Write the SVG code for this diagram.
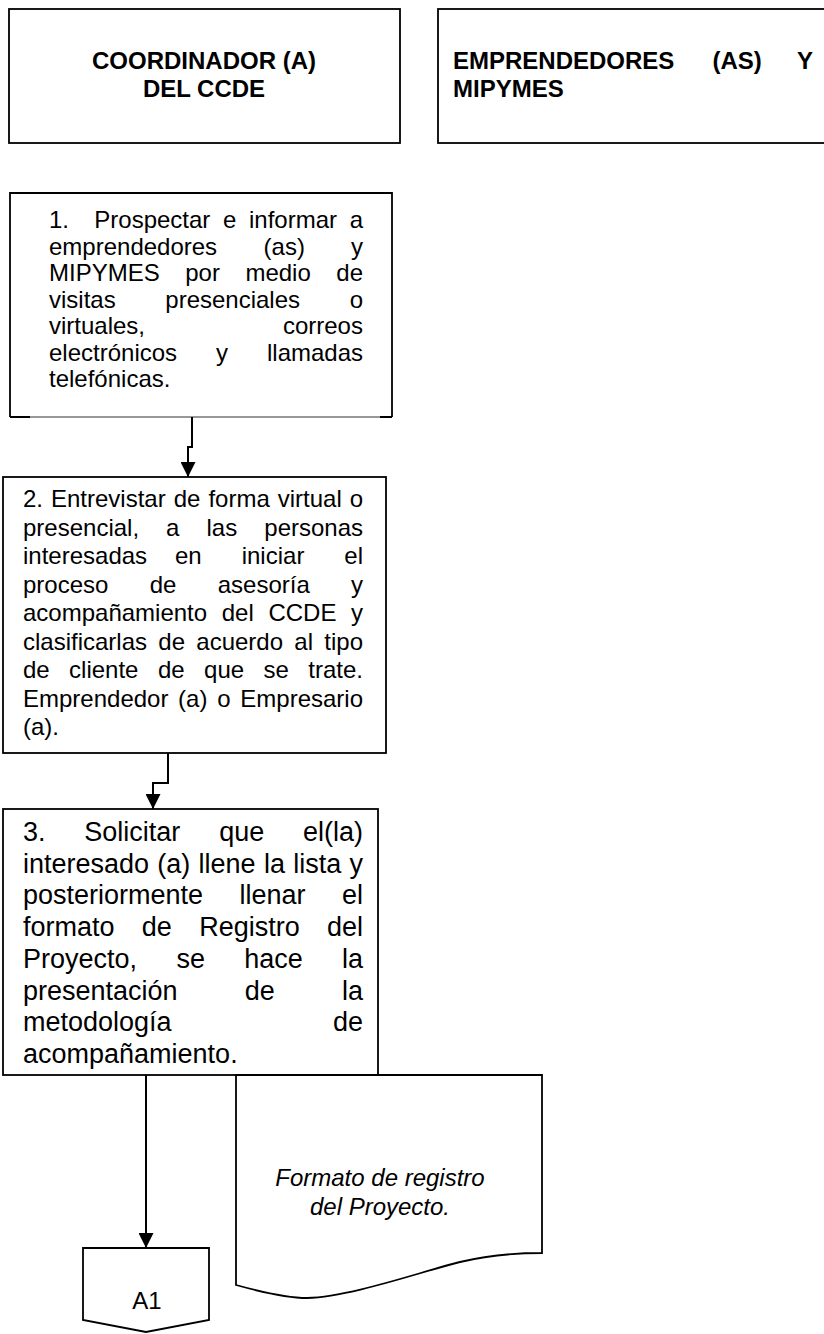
<svg xmlns="http://www.w3.org/2000/svg" width="824" height="1334" viewBox="0 0 824 1334">
<style>
.box{fill:#fff;stroke:#000;stroke-width:1.8}
.hd{font-family:"Liberation Sans",Arial,sans-serif;font-weight:bold;font-size:24px;fill:#000}
.tx{font-family:"Liberation Sans",Arial,sans-serif;font-size:24px;fill:#000}
.t3{font-family:"Liberation Sans",Arial,sans-serif;font-size:27px;fill:#000}
.it{font-family:"Liberation Sans",Arial,sans-serif;font-size:24px;font-style:italic;fill:#000}
.con{fill:none;stroke:#000;stroke-width:2}
</style>
<defs>
<marker id="ah" markerUnits="userSpaceOnUse" viewBox="0 0 15 15" refX="15" refY="7.5" markerWidth="15" markerHeight="15" orient="auto">
<path d="M0,0 L15,7.5 L0,15 Z" fill="#000"/>
</marker>
</defs>
<rect width="824" height="1334" fill="#fff"/>

<g id="header-coordinador">
<rect class="box" x="9" y="9" width="391" height="134" stroke-width="2.2"/>
<text class="hd" x="204" y="69" text-anchor="middle">COORDINADOR (A)</text>
<text class="hd" x="204" y="97" text-anchor="middle">DEL CCDE</text>
</g>

<g id="header-emprendedores">
<rect class="box" x="438" y="9" width="400" height="134" stroke-width="2.2"/>
<text class="hd" y="69"><tspan x="453">EMPRENDEDORES</tspan><tspan x="712.5">(AS)</tspan><tspan x="797">Y</tspan></text>
<text class="hd" x="453" y="97">MIPYMES</text>
</g>

<g id="step1">
<rect x="10" y="193" width="382" height="224" fill="#fff"/>
<path d="M10,417 V193 H392 V417" fill="none" stroke="#000" stroke-width="1.8"/>
<path d="M10,417 H392" fill="none" stroke="#333" stroke-width="1.2"/>
<path d="M10,417 H30 M380,417 H392" fill="none" stroke="#000" stroke-width="2"/>
<text class="tx" y="228"><tspan x="49">1.</tspan><tspan x="94.3">Prospectar</tspan><tspan x="223">e</tspan><tspan x="249">informar</tspan><tspan x="349.7">a</tspan></text>
<text class="tx" y="254.5"><tspan x="49">emprendedores</tspan><tspan x="263.6">(as)</tspan><tspan x="351">y</tspan></text>
<text class="tx" y="281"><tspan x="49">MIPYMES</tspan><tspan x="185.2">por</tspan><tspan x="245.4">medio</tspan><tspan x="336.3">de</tspan></text>
<text class="tx" y="307.5"><tspan x="49">visitas</tspan><tspan x="165.3">presenciales</tspan><tspan x="349.7">o</tspan></text>
<text class="tx" y="334"><tspan x="49">virtuales,</tspan><tspan x="282.9">correos</tspan></text>
<text class="tx" y="360.5"><tspan x="49">electrónicos</tspan><tspan x="216">y</tspan><tspan x="267">llamadas</tspan></text>
<text class="tx" x="49" y="387">telefónicas.</text>
</g>

<g id="step2">
<rect class="box" x="3" y="477" width="383" height="276"/>
<text class="tx" y="507"><tspan x="23">2.</tspan><tspan x="51">Entrevistar</tspan><tspan x="173.7">de</tspan><tspan x="208.4">forma</tspan><tspan x="277.7">virtual</tspan><tspan x="349.7">o</tspan></text>
<text class="tx" y="535.5"><tspan x="23">presencial,</tspan><tspan x="166.1">a</tspan><tspan x="206.5">las</tspan><tspan x="264.3">personas</tspan></text>
<text class="tx" y="564"><tspan x="23">interesadas</tspan><tspan x="175">en</tspan><tspan x="241.7">iniciar</tspan><tspan x="344.3">el</tspan></text>
<text class="tx" y="592.5"><tspan x="23">proceso</tspan><tspan x="149.7">de</tspan><tspan x="217.7">asesoría</tspan><tspan x="351">y</tspan></text>
<text class="tx" y="621"><tspan x="23">acompañamiento</tspan><tspan x="221.7">del</tspan><tspan x="268.4">CCDE</tspan><tspan x="351">y</tspan></text>
<text class="tx" y="649.5"><tspan x="23">clasificarlas</tspan><tspan x="158.3">de</tspan><tspan x="196.3">acuerdo</tspan><tspan x="294.3">al</tspan><tspan x="324.3">tipo</tspan></text>
<text class="tx" y="678"><tspan x="23">de</tspan><tspan x="69.1">cliente</tspan><tspan x="157.9">de</tspan><tspan x="204.1">que</tspan><tspan x="263.5">se</tspan><tspan x="308.3">trate.</tspan></text>
<text class="tx" y="706.5"><tspan x="23">Emprendedor</tspan><tspan x="178.1">(a)</tspan><tspan x="217.2">o</tspan><tspan x="240.3">Empresario</tspan></text>
<text class="tx" x="23" y="735">(a).</text>
</g>

<g id="step3">
<rect class="box" x="3" y="809" width="375" height="266"/>
<text class="t3" y="841"><tspan x="23">3.</tspan><tspan x="84.3">Solicitar</tspan><tspan x="219.2">que</tspan><tspan x="303">el(la)</tspan></text>
<text class="t3" y="872.7"><tspan x="23">interesado</tspan><tspan x="157.3">(a)</tspan><tspan x="198.6">llene</tspan><tspan x="263.9">la</tspan><tspan x="293.2">lista</tspan><tspan x="349.5">y</tspan></text>
<text class="t3" y="904.4"><tspan x="23">posteriormente</tspan><tspan x="239.5">llenar</tspan><tspan x="342">el</tspan></text>
<text class="t3" y="936.1"><tspan x="23">formato</tspan><tspan x="141.8">de</tspan><tspan x="199.2">Registro</tspan><tspan x="327">del</tspan></text>
<text class="t3" y="967.8"><tspan x="23">Proyecto,</tspan><tspan x="176.4">se</tspan><tspan x="244.2">hace</tspan><tspan x="342">la</tspan></text>
<text class="t3" y="999.5"><tspan x="23">presentación</tspan><tspan x="244.8">de</tspan><tspan x="342">la</tspan></text>
<text class="t3" y="1031.2"><tspan x="23">metodología</tspan><tspan x="333">de</tspan></text>
<text class="t3" x="23" y="1062.9">acompañamiento.</text>
</g>

<g id="doc-registro">
<path d="M236,1075 H542 V1253 C520,1253 490,1255 460,1262 C420,1272 350,1297 307,1298 C290,1298 265,1293 236,1285 Z" fill="#fff" stroke="#000" stroke-width="1.8"/>
<text class="it" x="380" y="1186" text-anchor="middle">Formato de registro</text>
<text class="it" x="380" y="1215" text-anchor="middle">del Proyecto.</text>
</g>

<g id="connector-a1">
<path d="M83,1248 H209 V1320 L146,1332 L83,1320 Z" fill="#fff" stroke="#000" stroke-width="1.8"/>
<text class="tx" x="147" y="1309" text-anchor="middle">A1</text>
</g>

<g id="connectors">
<path class="con" d="M192,417 V447 H188 V477" marker-end="url(#ah)"/>
<path class="con" d="M168,753 V783 H153 V809" marker-end="url(#ah)"/>
<path class="con" d="M146,1075 V1248" marker-end="url(#ah)"/>
</g>
</svg>
